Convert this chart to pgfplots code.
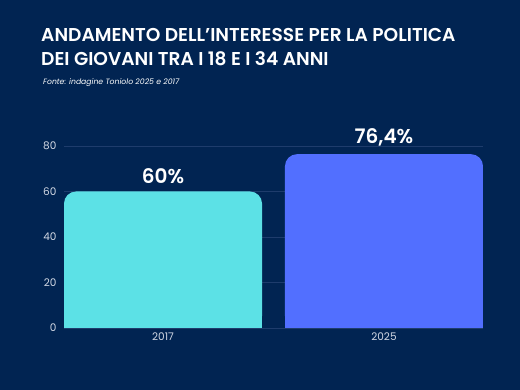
\documentclass[border=0pt]{standalone}
\usepackage{pgfplots}
\pgfplotsset{compat=1.18}
\usepackage{fontspec}
\setmainfont{Poppins}
\newfontfamily\semib{Poppins SemiBold}
\definecolor{bg}{HTML}{012452}
\definecolor{gridc}{HTML}{1E3C6C}
\definecolor{tickc}{HTML}{D2D8E4}
\definecolor{barA}{HTML}{5CE1E6}
\definecolor{barB}{HTML}{526FFF}
\begin{document}
\begin{tikzpicture}[x=1pt,y=1pt]
\fill[bg] (0,0) rectangle (520,390);
\useasboundingbox (0,0) rectangle (520,390);
\node[anchor=base west, inner sep=0pt, text=white, font=\semib\fontsize{18.6}{20}\selectfont] at (41,348) {ANDAMENTO DELL’INTERESSE PER LA POLITICA};
\node[anchor=base west, inner sep=0pt, text=white, font=\semib\fontsize{18.6}{20}\selectfont] at (41,324) {DEI GIOVANI TRA I 18 E I 34 ANNI};
\node[anchor=base west, inner sep=0pt, text=white, font=\itshape\fontsize{7.7}{9}\selectfont] at (43,305) {Fonte: indagine Toniolo 2025 e 2017};
\begin{axis}[
  at={(64pt,62pt)}, anchor=south west, scale only axis,
  width=419pt, height=182pt,
  xmin=-0.448, xmax=1.448, ymin=0, ymax=80,
  ytick={0,20,40,60,80}, xtick={0,1}, xticklabels={2017,2025},
  axis line style={draw=none}, major tick length=0pt,
  ymajorgrids, grid style={gridc, line width=0.8pt},
  ticklabel style={text=tickc, font=\fontsize{10.5}{12}\selectfont},
  /pgf/number format/assume math mode=true,
  yticklabel style={xshift=-4pt},
  xticklabel style={yshift=-1pt},
  clip=false,
  ybar, bar width=198pt, bar shift=0pt,
  nodes near coords style={text=white, font=\semib\fontsize{20}{22}\selectfont, yshift=4pt},
]
\addplot[fill=barA, draw=none, rounded corners=12pt, point meta=explicit symbolic, nodes near coords={\pgfplotspointmeta\%}] coordinates {(0,60)[60]};
\addplot[fill=barA, draw=none] coordinates {(0,30)};
\addplot[fill=barB, draw=none, rounded corners=12pt, point meta=explicit symbolic, nodes near coords={\pgfplotspointmeta\%}] coordinates {(1,76.4)[{76,4}]};
\addplot[fill=barB, draw=none] coordinates {(1,30)};
\end{axis}
\end{tikzpicture}
\end{document}
